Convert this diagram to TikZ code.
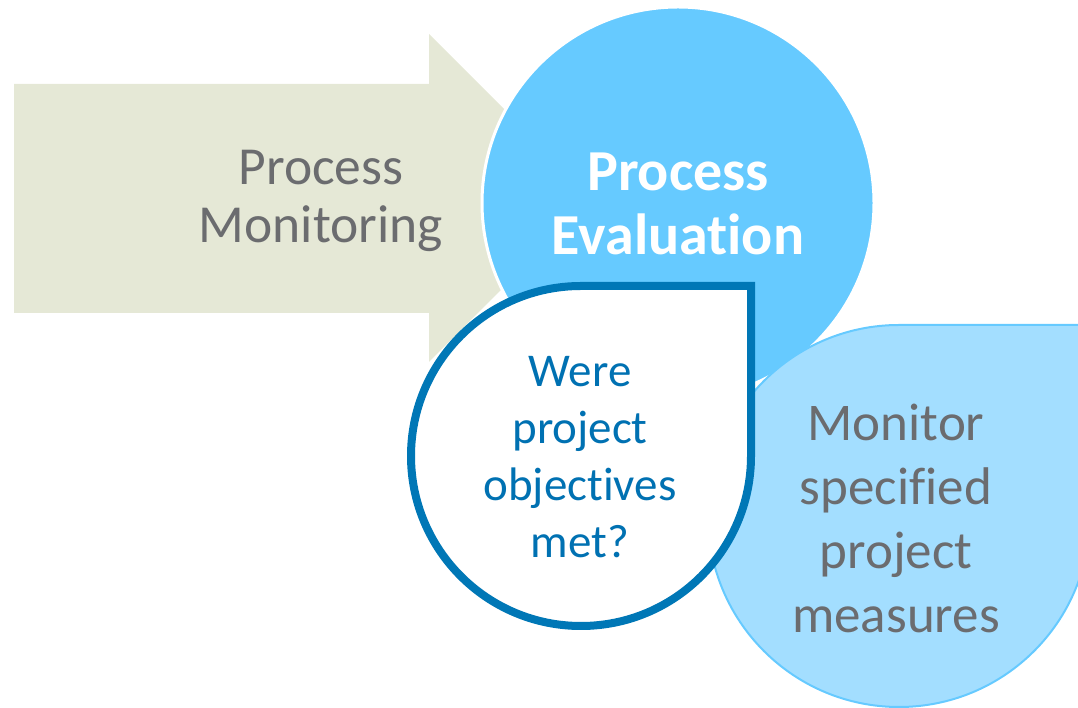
\documentclass[tikz,border=0pt]{standalone}
\usepackage{fontspec}
\setmainfont{Carlito}[Ligatures={NoCommon,NoRare,NoContextual,NoRequired}]
\definecolor{arrowfill}{HTML}{E5E8D6}
\definecolor{evalblue}{HTML}{66CAFF}
\definecolor{lightblue}{HTML}{A3DEFF}
\definecolor{darkblue}{HTML}{0077B6}
\definecolor{textblue}{HTML}{0071B2}
\definecolor{graytext}{HTML}{6B6C6F}
\newcommand{\nolig}{\kern0pt{}}
\begin{document}
\begin{tikzpicture}[x=1pt,y=1pt,
  lbl/.style={align=center,inner sep=0pt},
]
\useasboundingbox (0,0) rectangle (1078,708);
% arrow
\fill[arrowfill] (14,624) -- (429,624) -- (429,674) -- (593,510) -- (429,346) -- (429,395) -- (14,395) -- cycle;
\node[lbl,font=\fontsize{53.5}{58}\selectfont,text=graytext] (pm) at (321,507) {Process\\Monitoring};
% big circle
\fill[evalblue,draw=white,line width=3pt] (678,505) circle[radius=196];
\node[lbl,font=\fontsize{58}{64}\selectfont\bfseries,text=white] (pe) at (678,504) {Process\\Evaluat\nolig ion};
% light blue teardrop
\filldraw[fill=lightblue,draw=evalblue,line width=2pt] (1090,192) -- (1090,383) -- (899,383) arc[start angle=90,end angle=360,radius=191] -- cycle;
\node[lbl,font=\fontsize{53}{64}\selectfont,text=graytext] (mp) at (896,190) {Monitor\\specif\nolig ied\\project\\measures};
% white teardrop
\filldraw[fill=white,draw=darkblue,line width=8pt] (751,252) -- (751,422) -- (581,422) arc[start angle=90,end angle=360,radius=170] -- cycle;
\node[lbl,font=\fontsize{47}{57}\selectfont,text=textblue] (wo) at (580,251) {Were\\project\\object\nolig ives\\met?};
\end{tikzpicture}
\end{document}
